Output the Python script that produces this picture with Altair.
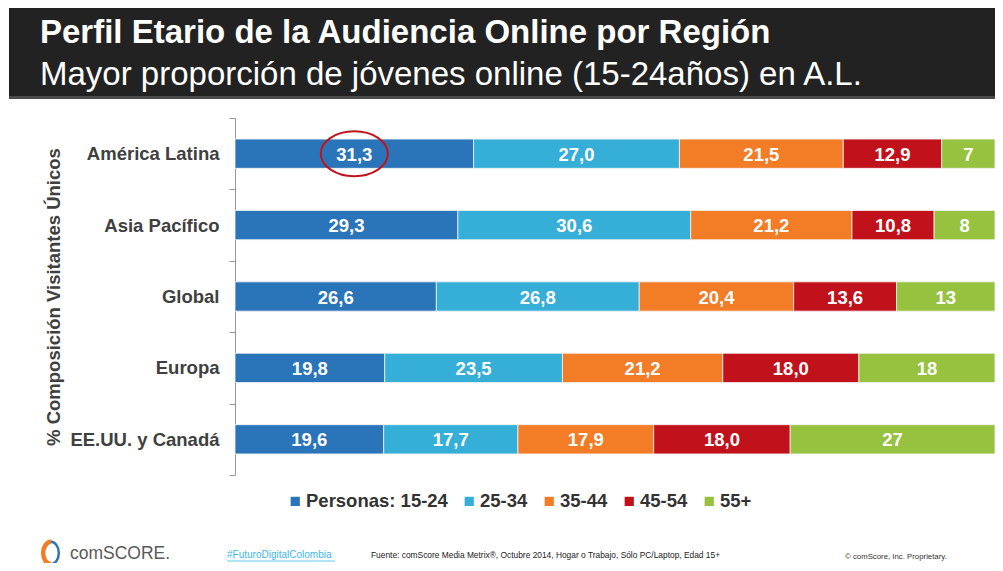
import altair as alt
import pandas as pd

# ---- data ----
regions = ["América Latina", "Asia Pacífico", "Global", "Europa", "EE.UU. y Canadá"]
ages = ["Personas: 15-24", "25-34", "35-44", "45-54", "55+"]
v_15_24 = [31.3, 29.3, 26.6, 19.8, 19.6]
v_25_34 = [27.0, 30.6, 26.8, 23.5, 17.7]
v_35_44 = [21.5, 21.2, 20.4, 21.2, 17.9]
v_45_54 = [12.9, 10.8, 13.6, 18.0, 18.0]
v_55_plus = [7, 8, 13, 18, 27]
colors = ["#2A74BA", "#35AED8", "#F37C26", "#C1121C", "#97C23F"]

title_text = "Perfil Etario de la Audiencia Online por Región"
subtitle_text = "Mayor proporción de jóvenes online (15-24años) en A.L."
y_title = "% Composición Visitantes Únicos"
hashtag = "#FuturoDigitalColombia"
source = "Fuente: comScore Media Metrix®, Octubre 2014, Hogar o Trabajo, Sólo PC/Laptop, Edad 15+"
copyright_text = "© comScore, Inc. Proprietary."
brand = "comSCORE."
highlight_region = "América Latina"

series = [v_15_24, v_25_34, v_35_44, v_45_54, v_55_plus]
rows = []
for ai, (age, vals) in enumerate(zip(ages, series)):
    for r, v in zip(regions, vals):
        rows.append({"region": r, "age": age, "order": ai, "value": v})
df = pd.DataFrame(rows)

FONT = "Liberation Sans"

base = alt.Chart(df).transform_stack(
    stack="value", groupby=["region"], as_=["v0", "v1"],
    offset="normalize", sort=[alt.SortField("order")]
).transform_calculate(
    mid="(datum.v0 + datum.v1) / 2",
    label="replace(datum.age == '55+' ? format(datum.value, '.0f') : format(datum.value, '.1f'), '.', ',')"
)

yenc = alt.Y("region:N", sort=regions,
             scale=alt.Scale(paddingInner=0, paddingOuter=0),
             axis=alt.Axis(title=y_title, titleFont=FONT, titleFontSize=18.5,
                           titleFontWeight="bold", titleColor="#404040",
                           labelFont=FONT, labelFontSize=18.5, labelFontWeight="bold",
                           labelColor="#404040", tickBand="extent", tickSize=6,
                           tickColor="#999", domainColor="#999", labelPadding=10,
                           titlePadding=6, grid=False))
xscale = alt.Scale(domain=[0, 1], nice=False, zero=True)

bars = base.mark_bar(height={"band": 0.41}, stroke="#f4f4f4", strokeWidth=0.8).encode(
    x=alt.X("v0:Q", scale=xscale, axis=None),
    x2="v1:Q",
    y=yenc,
    color=alt.Color("age:N", scale=alt.Scale(domain=ages, range=colors),
                    legend=alt.Legend(orient="none", legendX=51, legendY=374,
                                      direction="horizontal", title=None,
                                      symbolType="square", symbolSize=85,
                                      symbolStrokeWidth=0,
                                      labelFont=FONT, labelFontSize=18.5,
                                      labelFontWeight="bold", labelColor="#333",
                                      columnPadding=12, labelOffset=1.5, padding=0)),
)

labels = base.mark_text(color="white", font=FONT, fontSize=18.5, fontWeight="bold",
                        baseline="middle", dy=1).encode(
    x=alt.X("mid:Q", scale=xscale),
    y=alt.Y("region:N", sort=regions),
    text="label:N",
)

ellipse_path = "M -1 0 A 1 0.67 0 1 1 1 0 A 1 0.67 0 1 1 -1 0 Z"
ring = base.transform_filter(
    (alt.datum.order == 0) & (alt.datum.region == highlight_region)
).mark_point(shape=ellipse_path, size=67 * 67, filled=False, stroke="#C0141C",
             strokeWidth=2, opacity=1).encode(
    x=alt.X("mid:Q", scale=xscale),
    y=alt.Y("region:N", sort=regions),
)

one = pd.DataFrame({"a": [0]})
deco = alt.Chart(one)
header = deco.mark_rect(color="#222222").encode(
    x=alt.value(-226), x2=alt.value(760), y=alt.value(-110), y2=alt.value(-20))
header_line = deco.mark_rect(color="#4a4a4a").encode(
    x=alt.value(-226), x2=alt.value(760), y=alt.value(-22), y2=alt.value(-19))
t1 = deco.mark_text(align="left", baseline="alphabetic", font=FONT, fontSize=33,
                    fontWeight="bold", color="white").encode(
    x=alt.value(-195), y=alt.value(-75), text=alt.value(title_text))
t2 = deco.mark_text(align="left", baseline="alphabetic", font=FONT, fontSize=33,
                    color="white").encode(
    x=alt.value(-195), y=alt.value(-33), text=alt.value(subtitle_text))

logo_l = deco.mark_point(shape="M 0 -1 A 0.7 1 0 0 0 0 1", size=500, filled=False,
                         stroke="#F37C26", strokeWidth=4.5, opacity=1).encode(
    x=alt.value(-184), y=alt.value(435))
logo_r = deco.mark_point(shape="M 0 -1 A 0.7 1 0 0 1 0 1", size=500, filled=False,
                         stroke="#2A74BA", strokeWidth=2.5, opacity=1).encode(
    x=alt.value(-184), y=alt.value(435))
brand_t = deco.mark_text(align="left", baseline="middle", font=FONT, fontSize=17.5,
                         color="#5a5a5a").encode(
    x=alt.value(-165), y=alt.value(436), text=alt.value(brand))
hash_t = deco.mark_text(align="left", baseline="middle", font=FONT, fontSize=10,
                        color="#3DB7EA").encode(
    x=alt.value(-8), y=alt.value(437), text=alt.value(hashtag))
hash_u = deco.mark_rule(color="#3DB7EA", strokeWidth=0.8).encode(
    x=alt.value(-8), x2=alt.value(100), y=alt.value(443))
src_t = deco.mark_text(align="left", baseline="middle", font=FONT, fontSize=8.4,
                       color="#222").encode(
    x=alt.value(136), y=alt.value(437), text=alt.value(source))
copy_t = deco.mark_text(align="left", baseline="middle", font=FONT, fontSize=7.8,
                        color="#333").encode(
    x=alt.value(610), y=alt.value(439), text=alt.value(copyright_text))

chart = alt.layer(
    header, header_line, t1, t2, bars, labels, ring,
    logo_l, logo_r, brand_t, hash_t, hash_u, src_t, copy_t
).properties(
    width=760, height=357,
    padding={"left": 227, "top": 110, "right": 0, "bottom": 88},
    autosize=alt.AutoSizeParams(type="none"),
).configure_view(stroke=None)

chart.save("out.html", embed_options={"renderer": "svg", "actions": False})
